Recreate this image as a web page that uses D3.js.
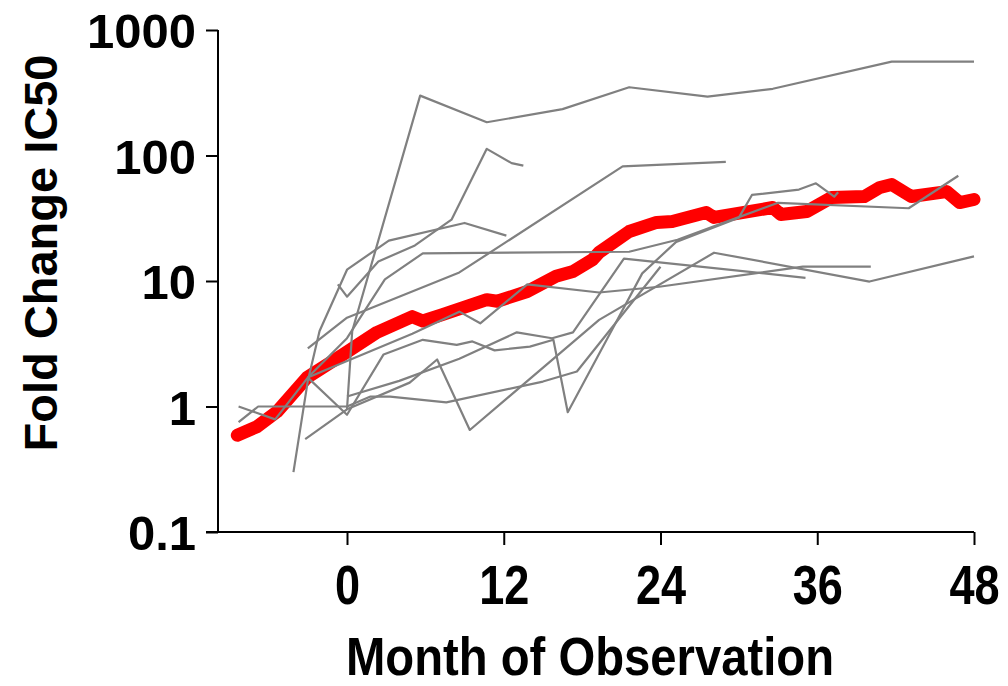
<!DOCTYPE html>
<html>
<head>
<meta charset="utf-8">
<script src="https://cdn.jsdelivr.net/npm/d3@7"></script>
<style>
  html, body { margin: 0; padding: 0; background: #fff; }
  svg { display: block; }
</style>
</head>
<body>
<svg id="chart" width="1008" height="686"></svg>
<script>
// ---- data: [month, fold change IC50] ----
const s01 = [[0,0.95],[0.4,4],[5.6,300],[10.7,184],[16.5,234],[21.6,350],[27.6,295],[32.6,340],[41.7,560],[48,560]];
const s02 = [[-0.7,9.4],[0,7.5],[2.4,14.3],[5.2,19.2],[8,30.8],[10.7,113],[12.6,87],[13.5,83]];
const s03 = [[-4.1,0.3],[-3,1.6],[-2.1,4],[0,12.3],[3.2,21],[9,29],[12.2,23]];
const s04 = [[-3,2.9],[0,5.1],[8.6,11.7],[21.1,82],[29,89]];
const s05 = [[-3,1.7],[0,3.5],[2.9,10.3],[5.8,16.6],[21.6,17.1],[25.3,21.3],[29.9,32],[33,42],[43,38],[46.8,69]];
const s06 = [[-8.3,1.0],[-5.5,0.79],[-3,1.7],[0,0.86],[2.8,2.6],[5.8,3.4],[8.4,3.1],[9.6,3.3],[11.3,2.8],[14,3.0],[15.8,3.4],[16.9,0.9],[20.3,4.1],[22.6,11.5],[25.2,20.5],[30,32],[31,48.5],[34.6,53.5],[35.9,60],[37.3,47],[37.6,51]];
const s07 = [[-3.2,0.55],[0,0.95],[4.8,1.55],[6.9,2.37],[9.4,0.65],[19.3,4.9],[28.1,16.8],[40,9.9],[48,15.7]];
const s08 = [[-8.3,0.75],[-6.8,1.0],[0,1.0],[1.8,1.2],[3.3,1.2],[7.6,1.08],[15,1.58],[17.6,1.9],[24,13]];
const s09 = [[0,1.2],[4,1.6],[8.6,2.4],[13,3.9],[15.7,3.5],[17.3,3.9],[21.2,15.1],[35.1,10.6]];
const s10 = [[-3,1.7],[0,2.3],[5,3.8],[8.6,5.7],[10.2,4.6],[13.8,9.4],[19.3,8.1],[23.9,9.0],[34.9,13],[40.1,13]];
const subjects = [s01, s02, s03, s04, s05, s06, s07, s08, s09, s10];

const median = [[-8.4,0.59],[-6.9,0.69],[-5.35,0.91],[-3.06,1.7],[-0.3,2.6],[2.3,3.9],[5.0,5.2],[5.8,4.8],[7.3,5.4],[10.7,7.1],[11.5,6.9],[13.8,8.25],[16,10.9],[17.3,11.9],[18.8,14.8],[19.3,16.9],[21.6,24.8],[23.7,29.3],[24.9,29.8],[27.5,35.1],[28.1,32.1],[32.6,38.5],[33.2,33.9],[35.2,35.8],[37.1,46.3],[39.6,47.1],[40.8,55.6],[41.7,58.7],[43.2,47.1],[45.9,51.6],[46.9,42.2],[48,44.6]];

const xTicks = [0, 12, 24, 36, 48];
const yTicks = [0.1, 1, 10, 100, 1000];
const yTickLabels = ["0.1", "1", "10", "100", "1000"];
const xTitle = "Month of Observation";
const yTitle = "Fold Change IC50";

// ---- layout ----
const svg = d3.select("#chart");
const plotL = 218, plotR = 974, plotT = 30, plotB = 532;

const x = d3.scaleLinear().domain([-9.876, 48]).range([plotL, plotR]);
const y = d3.scaleLog().domain([0.1, 1000]).range([plotB, plotT]);

const line = d3.line().x(d => x(d[0])).y(d => y(d[1]));

// red median trend (under the gray lines)
svg.append("path")
  .datum(median)
  .attr("d", line)
  .attr("fill", "none")
  .attr("stroke", "#ff0000")
  .attr("stroke-width", 13)
  .attr("stroke-linecap", "round")
  .attr("stroke-linejoin", "round");

// individual gray trajectories
svg.append("g").selectAll("path")
  .data(subjects)
  .join("path")
  .attr("d", line)
  .attr("fill", "none")
  .attr("stroke", "#808080")
  .attr("stroke-width", 2.2)
  .attr("stroke-linejoin", "round");

// y axis
const yAxis = svg.append("g")
  .attr("transform", `translate(${plotL},0)`)
  .call(d3.axisLeft(y).tickValues(yTicks).tickFormat((d, i) => yTickLabels[i]).tickSize(12).tickPadding(10));
yAxis.select(".domain").attr("stroke", "#000").attr("stroke-width", 2).attr("d", `M0,${plotT}V${plotB}`);
yAxis.selectAll(".tick line").attr("stroke", "#000").attr("stroke-width", 2);
yAxis.selectAll(".tick text")
  .attr("font-family", "'Liberation Sans', Arial, sans-serif")
  .attr("font-weight", "bold")
  .attr("font-size", 49)
  .attr("fill", "#000")
  .attr("dy", "0.36em");

// x axis (condensed bold digits via horizontal scaling)
const xAxis = svg.append("g")
  .attr("transform", `translate(0,${plotB})`)
  .call(d3.axisBottom(x).tickValues(xTicks).tickSize(13).tickPadding(0));
xAxis.select(".domain").attr("stroke", "#000").attr("stroke-width", 2).attr("d", `M${plotL - 12},0H${plotR}`);
xAxis.selectAll(".tick line").attr("stroke", "#000").attr("stroke-width", 2);
xAxis.selectAll(".tick text")
  .attr("font-family", "'Liberation Sans', Arial, sans-serif")
  .attr("font-weight", "bold")
  .attr("font-size", 55)
  .attr("fill", "#000")
  .attr("y", 72)
  .attr("dy", 0)
  .attr("transform", "scale(0.82,1)");

// titles
svg.append("text")
  .attr("transform", "translate(590,675) scale(0.875,1)")
  .attr("text-anchor", "middle")
  .attr("font-family", "'Liberation Sans', Arial, sans-serif")
  .attr("font-weight", "bold")
  .attr("font-size", 54)
  .text(xTitle);

svg.append("text")
  .attr("transform", "translate(57,253) rotate(-90)")
  .attr("text-anchor", "middle")
  .attr("font-family", "'Liberation Sans', Arial, sans-serif")
  .attr("font-weight", "bold")
  .attr("font-size", 47)
  .text(yTitle);
</script>
</body>
</html>
